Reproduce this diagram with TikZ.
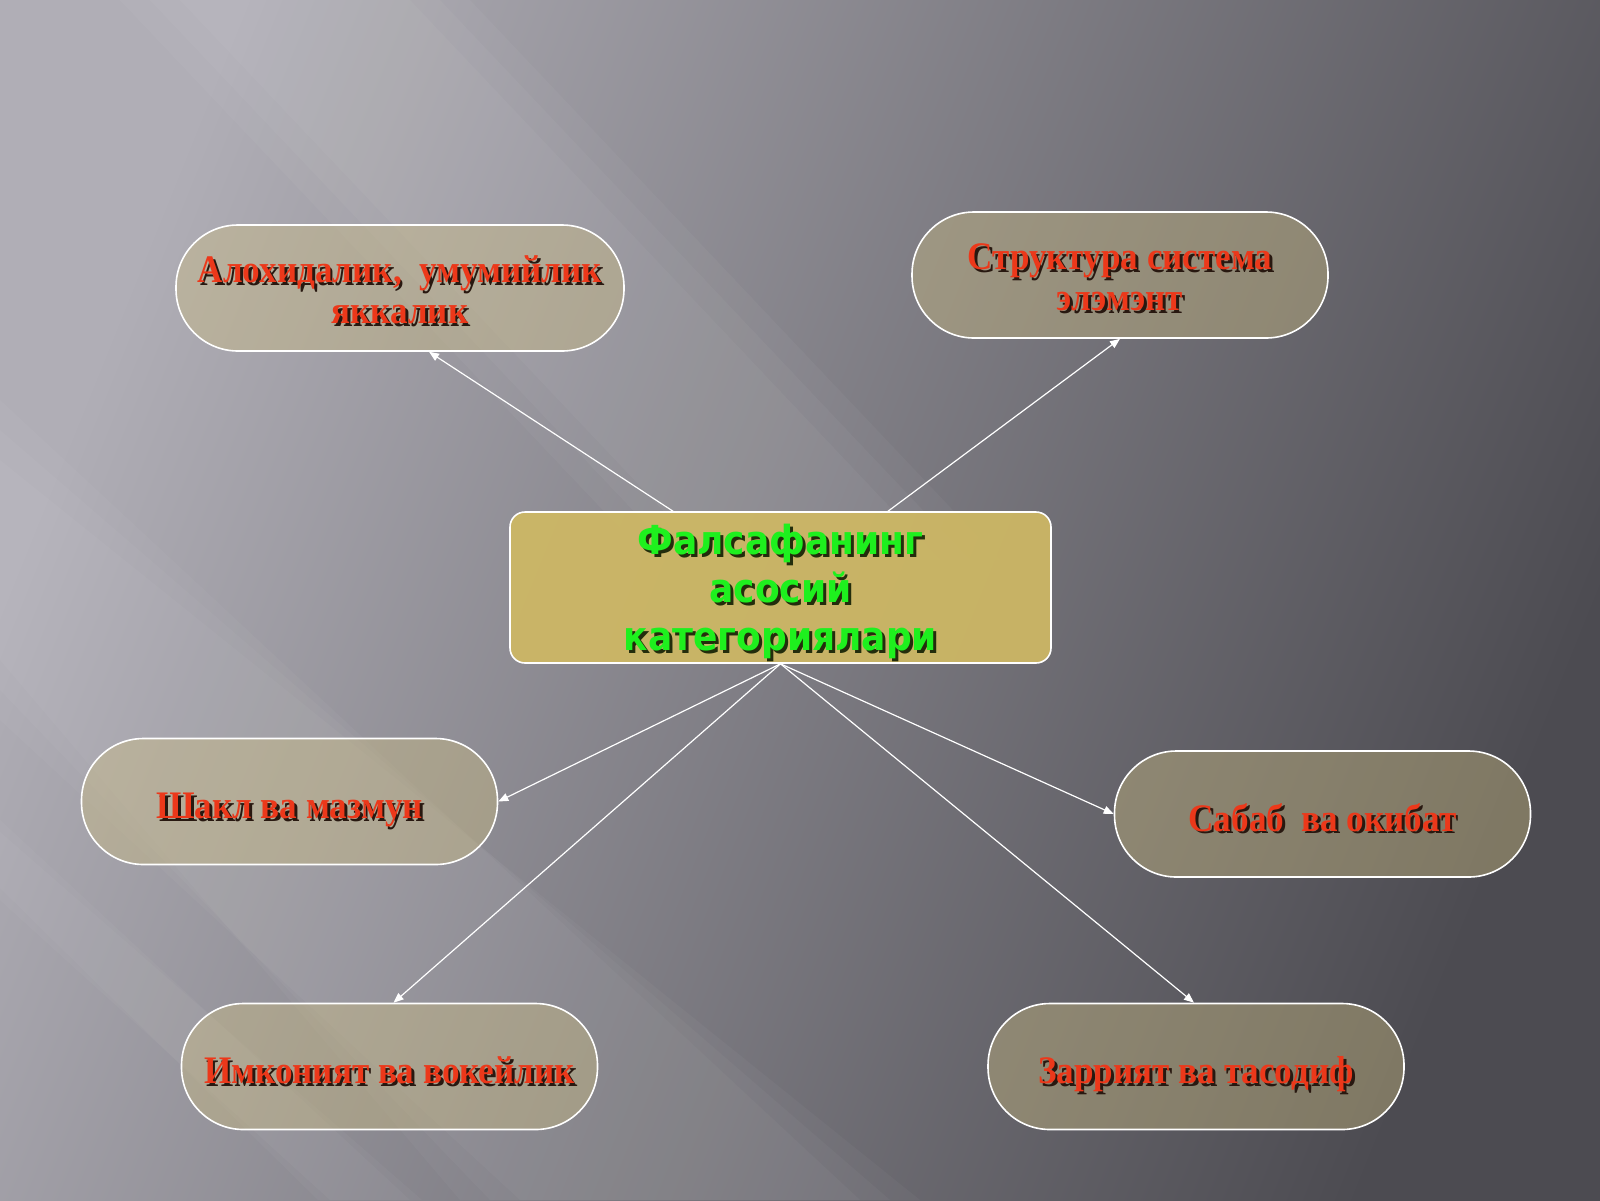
\documentclass[tikz,border=0pt]{standalone}
\usepackage{fontspec}
\setmainfont{Liberation Serif}
\newfontfamily\redfont{Liberation Serif}[FakeStretch=0.9]
\newfontfamily\greenfont{DejaVu Sans}[FakeStretch=0.9]
\usetikzlibrary{arrows.meta}
\definecolor{bgA}{RGB}{176,174,182}
\definecolor{bgM}{RGB}{118,117,123}
\definecolor{bgB}{RGB}{76,75,81}
\definecolor{tanfill}{RGB}{204,188,128}
\definecolor{goldfill}{RGB}{206,184,100}
\definecolor{redtxt}{RGB}{236,56,26}
\definecolor{redshadow}{RGB}{40,24,16}
\definecolor{greentxt}{RGB}{30,240,30}
\definecolor{greenshadow}{RGB}{35,45,12}
\newcommand\shr[2][-1.5pt]{\rule[-4pt]{0pt}{20pt}\raisebox{#1}[0pt][0pt]{\makebox[0pt][l]{\hspace*{1.4pt}\raisebox{-1.4pt}{\textcolor{redshadow}{#2}}}\textcolor{redtxt}{#2}}}
\newcommand\shg[1]{\makebox[0pt][l]{\hspace*{1.5pt}\raisebox{-1.5pt}{\textcolor{greenshadow}{#1}}}\textcolor{greentxt}{#1}}
\tikzset{
  stadium/.style={draw=white, line width=0.8pt, fill=tanfill, fill opacity=0.4, text opacity=1,
    rounded corners=31pt, minimum width=208pt, minimum height=63pt, inner sep=0pt, align=center,
    font=\redfont\bfseries\fontsize{19.5}{20.5}\selectfont},
  centerbox/.style={draw=white, line width=0.8pt, fill=goldfill, fill opacity=0.93, text opacity=1,
    rounded corners=7.5pt, minimum width=270.5pt, minimum height=75.5pt, inner sep=0pt, align=center,
    font=\greenfont\bfseries\fontsize{20}{24}\selectfont},
  arr/.style={draw=white, line width=0.6pt, -{Triangle[length=5pt,width=4pt]}},
  beam/.style={fill=white, fill opacity=#1, draw=none}
}
\begin{document}
\begin{tikzpicture}[x=0.5pt,y=-0.5pt]
\useasboundingbox (0,0) rectangle (1600,1200);
\shade[top color=bgA, middle color=bgM, bottom color=bgB, shading angle=68] (0,0) rectangle (1600,1200);
% light beams (soft edges by layering)
\foreach \w in {0,30,60} {
  \fill[beam=0.035] (120+\w,0) -- (470-\w,0) -- (1000-\w,560) -- (650+\w,560) -- cycle;
  \fill[beam=0.03] (0,400+\w) -- (0,720-\w) -- (520-\w,1200) -- (860+\w,1200) -- cycle;
}
\foreach \w in {0,12} {
  \fill[beam=0.03] (0,820+\w) -- (0,900-\w) -- (330-\w,1200) -- (410+\w,1200) -- cycle;
}
% nodes
\node[centerbox] (c) at (780.5,587.5) {\rule{0pt}{21pt}\shg{Фалсафанинг}\\\shg{асосий}\\\shg{категориялари}};
\node[stadium, minimum width=224pt] (tl) at (400,288) {\shr{Алохидалик, \ умумийлик}\\\shr{яккалик}};
\node[stadium] (tr) at (1120,275) {\shr{Структура система}\\\shr{элэмэнт}};
\node[stadium] (ml) at (289.5,801.5) {\shr[-2.5pt]{Шакл ва мазмун}};
\node[stadium] (mr) at (1322.5,814) {\shr[-2.5pt]{Сабаб \ ва окибат}};
\node[stadium] (bl) at (389.5,1066.5) {\shr[-2.5pt]{Имконият ва вокейлик}};
\node[stadium] (br) at (1196,1066.5) {\shr[-2.5pt]{Заррият ва тасодиф}};
% connectors
\draw[arr] ([xshift=-53.75pt]c.north) -- ([xshift=14.5pt]tl.south);
\draw[arr] ([xshift=53.75pt]c.north) -- (tr.south);
\draw[arr] (c.south) -- (ml.east);
\draw[arr] (c.south) -- (mr.west);
\draw[arr] (c.south) -- ([xshift=2pt]bl.north);
\draw[arr] (c.south) -- ([xshift=-1pt]br.north);
\end{tikzpicture}
\end{document}
